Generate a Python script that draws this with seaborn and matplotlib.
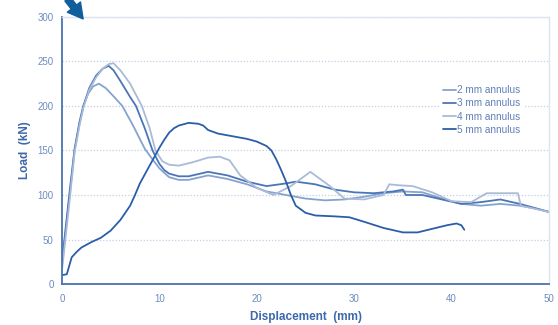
import numpy as np
import pandas as pd
import matplotlib
matplotlib.use("Agg")
import matplotlib.pyplot as plt
import seaborn as sns
from matplotlib.ticker import MultipleLocator

# ----------------------------
# Daten
# ----------------------------
x_2mm = [0, 0.3, 0.8, 1.3, 1.8, 2.2, 2.7, 3.2, 3.8, 4.5, 5.2, 6.2, 7.3, 8.5, 9.3, 10.0, 11.0, 12.0,
         13.0, 15.0, 17.0, 19.0, 21.0, 23.0, 25.0, 27.0, 29.0, 31.0, 33.0, 35.0, 37.0, 39.0,
         41.0, 43.0, 45.0, 47.0, 48.5, 50.0]
y_2mm = [20, 50, 100, 150, 180, 200, 214, 222, 225, 220, 212, 200, 178, 152, 140, 130, 120, 117,
         117, 122, 118, 112, 104, 100, 96, 94, 95, 98, 102, 104, 103, 96,
         90, 88, 90, 88, 85, 81]

x_3mm = [0, 0.3, 0.8, 1.3, 1.8, 2.2, 2.8, 3.5, 4.2, 4.8, 5.3, 6.0, 7.0, 7.6, 8.5, 9.3, 10.0, 10.5,
         11.0, 12.0, 13.0, 15.0, 17.0, 19.0, 21.0, 23.0, 24.0, 26.0, 28.0, 30.0, 32.0, 34.0,
         35.0, 35.3, 37.0, 39.0, 41.0, 43.0, 45.0, 47.0, 50.0]
y_3mm = [25, 55, 105, 152, 182, 200, 220, 234, 242, 245, 240, 228, 210, 200, 175, 150, 135, 128,
         124, 121, 121, 126, 122, 115, 110, 113, 115, 112, 106, 103, 102, 104,
         106, 100, 100, 95, 90, 92, 95, 90, 81]

x_4mm = [0, 0.3, 0.8, 1.3, 1.8, 2.2, 2.8, 3.5, 4.2, 4.8, 5.3, 6.0, 7.0, 8.2, 9.0, 9.6, 10.3, 11.0,
         12.0, 13.5, 15.0, 16.2, 17.2, 18.3, 20.0, 21.7, 23.5, 25.5, 27.5, 29.0, 31.0, 33.0,
         33.6, 34.5, 36.0, 38.0, 40.0, 42.0, 43.6, 46.8, 47.1, 50.0]
y_4mm = [15, 45, 95, 148, 178, 198, 218, 232, 242, 247, 248, 240, 225, 200, 175, 150, 138, 134,
         133, 137, 142, 143, 139, 122, 108, 100, 110, 126, 110, 96, 95, 100,
         112, 111, 110, 103, 93, 92, 102, 102, 88, 81]

x_5mm = [0, 0.5, 1.0, 1.5, 2.0, 3.0, 4.0, 5.0, 6.0, 7.0, 7.5, 8.0, 9.0, 9.5, 10.0, 10.5, 11.0,
         11.5, 12.0, 13.0, 14.0, 14.5, 15.0, 16.0, 17.0, 18.0, 19.0, 20.0, 21.0, 21.5, 22.0,
         22.5, 23.0, 23.5, 24.0, 25.0, 26.0, 28.0, 29.5, 31.0, 33.0, 35.0, 36.5, 38.0, 39.5,
         40.5, 41.0, 41.3]
y_5mm = [10, 11, 30, 36, 41, 47, 52, 60, 72, 88, 100, 113, 133, 143, 153, 162, 170,
         175, 178, 181, 180, 178, 173, 169, 167, 165, 163, 160, 155, 150, 140,
         128, 115, 100, 88, 80, 77, 76, 75, 70, 63, 58, 58, 62, 66,
         68, 66, 61]

serien = ["2 mm annulus", "3 mm annulus", "4 mm annulus", "5 mm annulus"]
farben = ["#86a2cf", "#4a76b8", "#a9bbd7", "#2b5ea8"]

x_ticks = [0, 10, 20, 30, 40, 50]
y_ticks = [0, 50, 100, 150, 200, 250, 300]

# ----------------------------
# Plot
# ----------------------------
sns.set_style("white")
plt.rcParams["font.family"] = ["Liberation Sans", "DejaVu Sans"]

fig = plt.figure(figsize=(5.58, 3.25), dpi=100)
ax = fig.add_axes([0.111, 0.126, 0.873, 0.822])

daten = [(x_2mm, y_2mm), (x_3mm, y_3mm), (x_4mm, y_4mm), (x_5mm, y_5mm)]
for (xs, ys), name, farbe in zip(daten, serien, farben):
    df = pd.DataFrame({"x": xs, "y": ys})
    sns.lineplot(data=df, x="x", y="y", ax=ax, color=farbe, label=name,
                 sort=False, estimator=None, linewidth=1.3)

ax.set_xlim(0, 50)
ax.set_ylim(0, 300)
ax.set_xticks(x_ticks)
ax.set_yticks(y_ticks)
ax.xaxis.set_minor_locator(MultipleLocator(2))
ax.yaxis.set_minor_locator(MultipleLocator(10))

tick_farbe = "#6d8cbf"
ax.tick_params(axis="both", which="both", colors="#4a72b0", labelcolor=tick_farbe, labelsize=7)
ax.tick_params(axis="x", which="major", direction="out", length=4, width=1)
ax.tick_params(axis="x", which="minor", direction="out", length=2.5, width=0.8)
ax.tick_params(axis="y", which="major", direction="inout", length=5, width=1)
ax.tick_params(axis="y", which="minor", direction="inout", length=3, width=0.8)

for s in ["left", "bottom"]:
    ax.spines[s].set_color("#4a72b0")
    ax.spines[s].set_linewidth(1.3)
for s in ["top", "right"]:
    ax.spines[s].set_color("#dde3ec")
    ax.spines[s].set_linewidth(1.0)

ax.yaxis.grid(True, linestyle=(0, (1, 1.5)), color="#c3cfe3", linewidth=0.9)
ax.set_axisbelow(True)

ax.set_xlabel("Displacement  (mm)", fontsize=8.5, fontweight="bold", color="#3d68ab", labelpad=5)
ax.set_ylabel("Load  (kN)", fontsize=8.5, fontweight="bold", color="#3d68ab", labelpad=5)

leg = ax.legend(loc="upper left", bbox_to_anchor=(0.765, 0.775), frameon=True, fontsize=7.2,
                handlelength=1.3, handletextpad=0.15, labelspacing=0.33, borderpad=0.3)
leg.get_frame().set_edgecolor("white")
leg.get_frame().set_facecolor("white")
leg.get_frame().set_alpha(1)
for text in leg.get_texts():
    text.set_color("#5f7fb8")

# Pfeil oben links
fig.patches.append(matplotlib.patches.FancyArrowPatch(
    (0.118, 1.01), (0.152, 0.935), transform=fig.transFigure,
    arrowstyle="simple,head_length=0.9,head_width=1.0,tail_width=0.4",
    mutation_scale=12, color="#115e9c"))

fig.savefig("out.png", dpi=100)
